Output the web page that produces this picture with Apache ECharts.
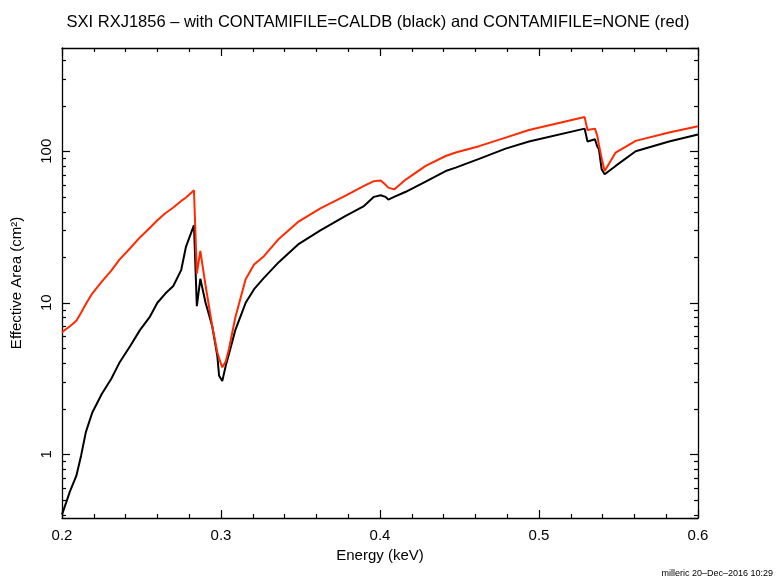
<!DOCTYPE html>
<html>
<head>
<meta charset="utf-8">
<script src="https://cdn.jsdelivr.net/npm/echarts@6/dist/echarts.min.js"></script>
<style>
  html, body { margin: 0; padding: 0; background: #fff; }
  #chart { width: 778px; height: 581px; }
</style>
</head>
<body>
<div id="chart"></div>
<script>
// energy grid (keV)
const energy = [
  0.200, 0.205, 0.209, 0.212, 0.215, 0.219, 0.225, 0.231, 0.236, 0.243,
  0.249, 0.255, 0.260, 0.265, 0.270, 0.275, 0.278, 0.283, 0.2848, 0.287,
  0.2903, 0.2945, 0.2977, 0.2988, 0.3008, 0.3015, 0.303, 0.305, 0.309, 0.3155,
  0.3208, 0.327, 0.3365, 0.349, 0.3625, 0.3784, 0.3899, 0.3962, 0.4004, 0.4035,
  0.4052, 0.4089, 0.4162, 0.4287, 0.4413, 0.4476, 0.4623, 0.479, 0.4937, 0.5287,
  0.5305, 0.5352, 0.5367, 0.5377, 0.5394, 0.5413, 0.5482, 0.5608, 0.5818, 0.600
];
// effective area, CONTAMIFILE=CALDB (black)
const areaCaldb = [
  0.40, 0.57, 0.72, 0.98, 1.40, 1.88, 2.5, 3.15, 4.0, 5.2,
  6.6, 8.0, 10, 11.5, 12.9, 16.5, 23.5, 32.5, 9.5, 14.4,
  10, 7.0, 4.45, 3.3, 3.05, 3.1, 3.85, 4.6, 6.6, 10.0,
  12.3, 14.6, 18.6, 24.5, 30, 37.5, 43.5, 50, 51.2, 50,
  48, 50, 54, 63, 74, 78, 89, 104, 116, 141,
  116, 120, 107, 103, 76, 70.5, 80, 100, 116, 129
];
// effective area, CONTAMIFILE=NONE (red)
const areaNone = [
  6.4, 7.0, 7.6, 8.6, 9.8, 11.5, 13.8, 16.3, 19.2, 23,
  27, 31, 35, 39, 42.5, 47, 49.5, 55.3, 15.6, 22,
  13, 7.0, 4.7, 4.3, 3.75, 3.7, 4.1, 4.95, 8.0, 14.3,
  17.9, 20.3, 26.5, 34.5, 42, 51, 59, 63.5, 64, 60,
  57.5, 56, 65, 80, 93, 98, 108, 123, 138, 168,
  138, 141, 126, 110, 90, 74, 98, 117, 133, 146
];
const xMin = 0.2, xMax = 0.6, xStep = 0.1;
const yMin = 0.38, yMax = 480;

const FONT = '"Liberation Sans", Arial, Helvetica, sans-serif';
const chart = echarts.init(document.getElementById('chart'));

const pairs = (ys) => energy.map((e, i) => [e, ys[i]]);
const frameLine = { show: true, lineStyle: { color: '#000', width: 1.3 } };

const option = {
  animation: false,
  backgroundColor: '#fff',
  title: {
    text: 'SXI RXJ1856 – with CONTAMIFILE=CALDB (black) and CONTAMIFILE=NONE (red)',
    left: 373, top: 9, textAlign: 'center',
    textStyle: { fontFamily: FONT, fontSize: 16.5, fontWeight: 'normal', color: '#000' }
  },
  grid: { left: 62, right: 80, top: 48, bottom: 63, show: false },
  xAxis: [
    {
      type: 'value', position: 'bottom', min: xMin, max: xMax, interval: xStep,
      name: 'Energy (keV)', nameLocation: 'middle', nameGap: 28,
      nameTextStyle: { fontFamily: FONT, fontSize: 15, color: '#000' },
      axisLine: frameLine,
      axisTick: { inside: true, length: 8, lineStyle: { color: '#000', width: 1.2 } },
      minorTick: { show: true, splitNumber: 5, length: 4, lineStyle: { color: '#000', width: 1.2 } },
      axisLabel: { fontFamily: FONT, fontSize: 15, color: '#000', margin: 10,
        formatter: v => v.toFixed(1) },
      splitLine: { show: false }
    },
    {
      type: 'value', position: 'top', min: xMin, max: xMax, interval: xStep,
      axisLine: frameLine,
      axisTick: { inside: true, length: 8, lineStyle: { color: '#000', width: 1.2 } },
      minorTick: { show: true, splitNumber: 5, length: 4, lineStyle: { color: '#000', width: 1.2 } },
      axisLabel: { show: false },
      splitLine: { show: false }
    }
  ],
  yAxis: [
    {
      type: 'log', logBase: 10, position: 'left', min: yMin, max: yMax,
      name: 'Effective Area (cm²)', nameLocation: 'middle', nameGap: 38,
      nameTextStyle: { fontFamily: FONT, fontSize: 15, color: '#000' },
      axisLine: frameLine,
      axisTick: { inside: true, length: 8, lineStyle: { color: '#000', width: 1.2 } },
      axisLabel: { fontFamily: FONT, fontSize: 15, color: '#000', rotate: 90, margin: 8,
        showMinLabel: false, showMaxLabel: false },
      splitLine: { show: false }
    },
    {
      type: 'log', logBase: 10, position: 'right', min: yMin, max: yMax,
      axisLine: frameLine,
      axisTick: { inside: true, length: 8, lineStyle: { color: '#000', width: 1.2 } },
      axisLabel: { show: false },
      splitLine: { show: false }
    }
  ],
  series: [
    {
      name: 'CALDB', type: 'line', data: pairs(areaCaldb), showSymbol: false,
      lineStyle: { color: '#000', width: 2 }, itemStyle: { color: '#000' }
    },
    {
      name: 'NONE', type: 'line', data: pairs(areaNone), showSymbol: false,
      lineStyle: { color: '#ff2a00', width: 2 }, itemStyle: { color: '#ff2a00' }
    }
  ]
};
chart.setOption(option);

// log minor ticks (2..9 per decade) on both vertical axes
const minorY = [];
for (let dec = 0.1; dec <= 100; dec *= 10) {
  for (let m = 2; m <= 9; m++) {
    const v = +(m * dec).toPrecision(3);
    if (v > yMin && v < yMax) minorY.push(v);
  }
}
const xl = chart.convertToPixel({ xAxisIndex: 0 }, xMin);
const xr = chart.convertToPixel({ xAxisIndex: 0 }, xMax);
const ticks = [];
minorY.forEach(v => {
  const y = Math.round(chart.convertToPixel({ yAxisIndex: 0 }, v)) + 0.5;
  ticks.push({ type: 'line', shape: { x1: xl, y1: y, x2: xl + 4, y2: y },
    style: { stroke: '#000', lineWidth: 1.2 }, silent: true });
  ticks.push({ type: 'line', shape: { x1: xr - 4, y1: y, x2: xr, y2: y },
    style: { stroke: '#000', lineWidth: 1.2 }, silent: true });
});
ticks.push({
  type: 'text', right: 5, bottom: 3, silent: true,
  style: { text: 'milleric 20–Dec–2016 10:29', font: '9px ' + FONT, fill: '#000' }
});
chart.setOption({ graphic: ticks });
</script>
</body>
</html>
